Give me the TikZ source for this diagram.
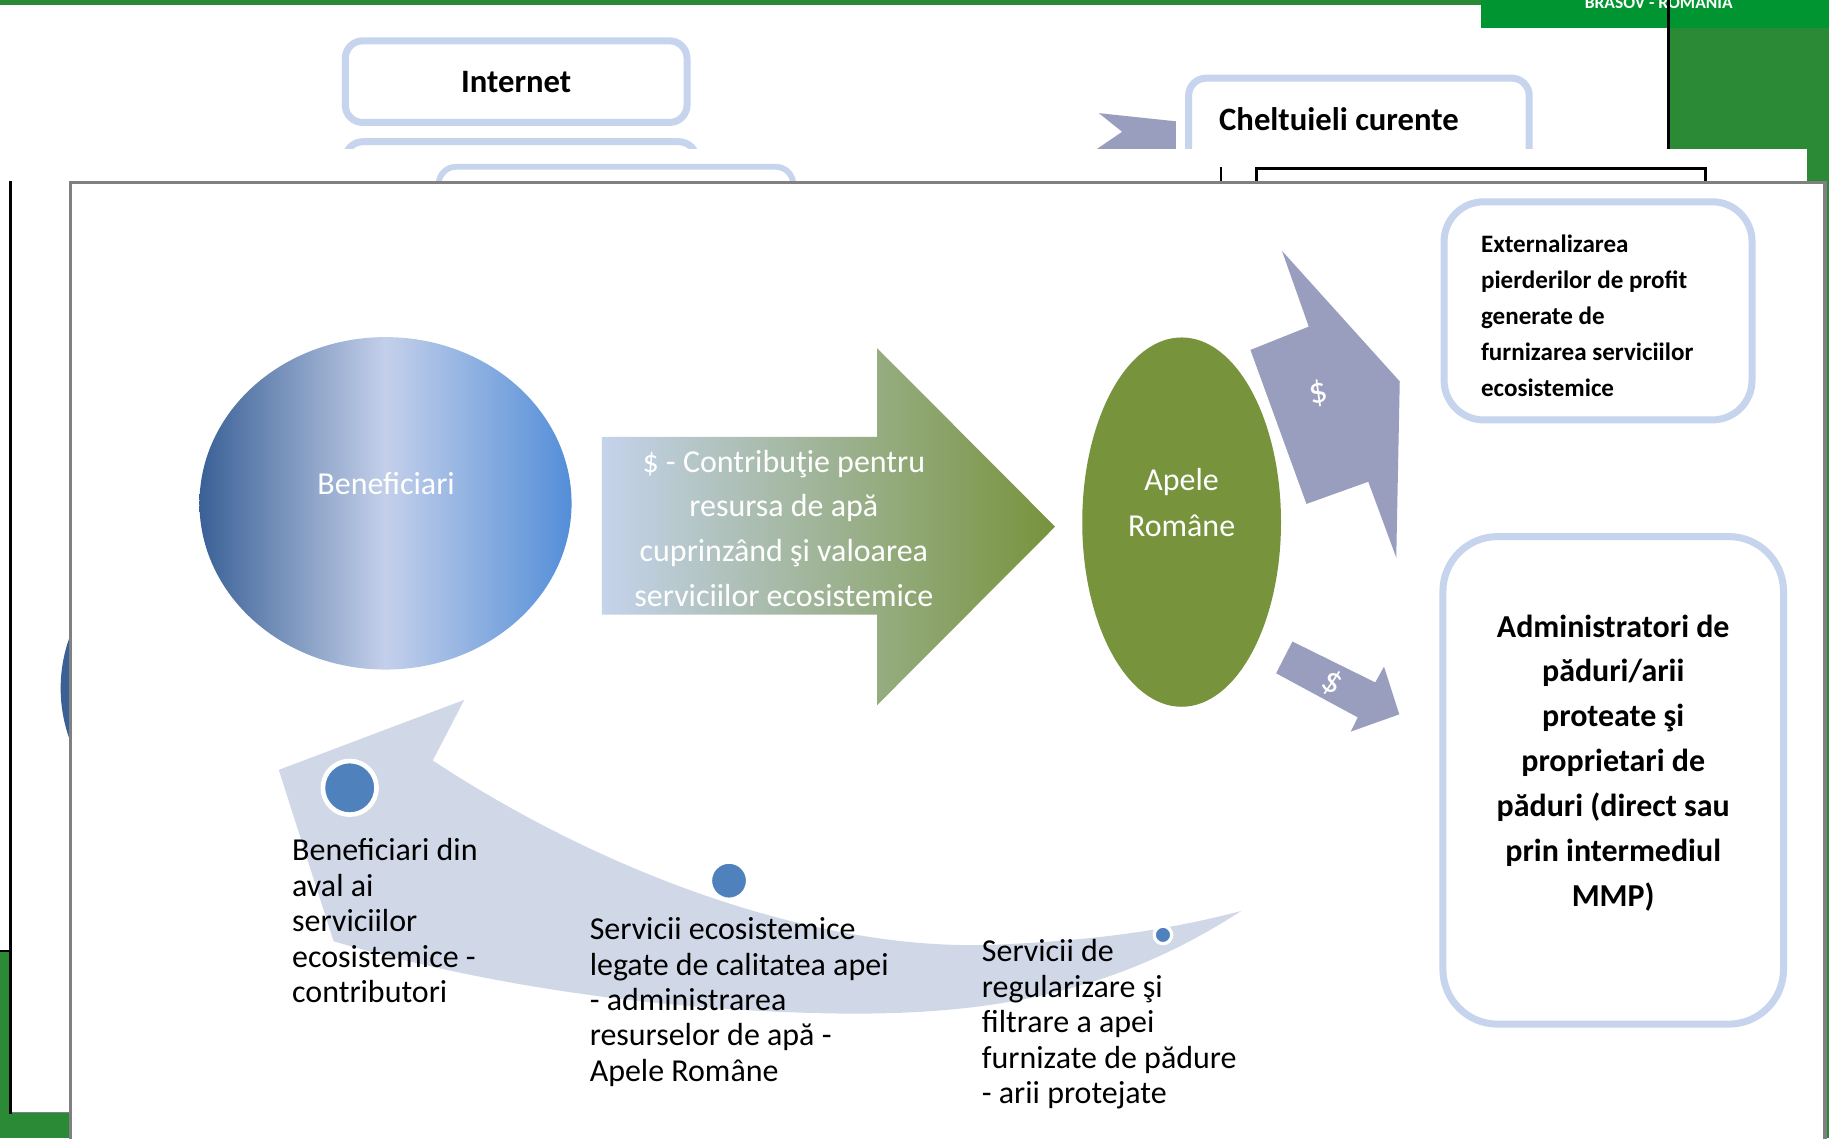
\documentclass[tikz,border=0pt]{standalone}
\usepackage{fontspec}
\setmainfont{Carlito}
\usepackage{xcolor}
\usepackage{tikz}
\usetikzlibrary{shapes.geometric,positioning}

\definecolor{framegreen}{RGB}{42,138,54}
\definecolor{headgreen}{RGB}{0,149,48}
\definecolor{boxblue}{RGB}{198,212,238}
\definecolor{flowgreen}{RGB}{119,147,60}
\definecolor{flowblue}{RGB}{197,211,236}
\definecolor{benefdark}{RGB}{58,96,150}
\definecolor{beneflight}{RGB}{196,208,234}
\definecolor{benefright}{RGB}{83,142,216}
\definecolor{arrowgray}{RGB}{154,158,190}
\definecolor{bandblue}{RGB}{208,216,232}
\definecolor{dotblue}{RGB}{79,129,189}
\definecolor{slidegray}{RGB}{128,128,128}

\begin{document}
\begin{tikzpicture}[x=1pt, y=-1pt,
    roundbox/.style={draw=boxblue, line width=6pt, fill=white, inner sep=0pt},
    bigtext/.style={font=\fontsize{27.4}{30.4}\selectfont, align=left, anchor=north west, inner sep=0pt},
    whitetext/.style={text=white, align=center, inner sep=0pt},
    dollar/.style={text=white, font=\fontsize{31}{31}\selectfont, inner sep=0pt},
    dot/.style={circle, fill=dotblue, draw=white, inner sep=0pt}]

\useasboundingbox (0,0) rectangle (1568,976);

% Back slide
\fill[framegreen] (0,0) rectangle (1568,976);
\fill[white] (0,4) rectangle (1430,815);
\fill[headgreen] (1270,0) rectangle (1568,24);
\node[text=white, font=\bfseries\fontsize{15}{15}\selectfont, anchor=base, inner sep=0pt] (town) at (1422,7) {BRASOV - ROMANIA};
\draw[black, line width=2.5pt] (1430,0) -- (1430,128);
\draw[black, line width=2pt] (0,815) -- (10,815);

\node[roundbox, rounded corners=15pt, minimum width=293pt, minimum height=70pt, font=\bfseries\fontsize{28}{30}\selectfont] (internet) at (442.5,70) {Internet};
\draw[boxblue, line width=6pt, rounded corners=15pt] (296,200) -- (296,121.5) -- (597,121.5) -- (597,200);
\draw[boxblue, line width=6pt, fill=white, rounded corners=15pt] (1019,200) -- (1019,67) -- (1311,67) -- (1311,200);
\node[font=\bfseries\fontsize{28}{30}\selectfont, anchor=base west, inner sep=0pt] (costs) at (1045,111.5) {Cheltuieli curente};
\fill[arrowgray] (942,97) -- (1008,104) -- (1008,128) -- (940,128) -- (962,113) -- cycle;

% Middle slide
\fill[white] (10,128) rectangle (1549,954);
\draw[slidegray, line width=1pt] (10,954) -- (60,954);
\draw[black, line width=2.5pt] (9,155) -- (9,955);
\fill[benefdark] (212,590) ellipse [x radius=160pt, y radius=143pt];
\draw[boxblue, line width=5pt, rounded corners=15pt] (376,200) -- (376,143) -- (680,143) -- (680,200);
\draw[black, line width=2pt] (1047,143) -- (1047,160);
\draw[black, line width=3pt] (1077,160) -- (1077,144.5) -- (1462,144.5) -- (1462,160);

% Front slide
\draw[slidegray, line width=3pt, fill=white] (60.5,156.5) rectangle (1564.5,1000);

% Curved return arrow
\fill[bandblue] (239,660) -- (398,600) -- (371,652)
    .. controls (520,750) and (700,815) .. (850,810)
    .. controls (950,806) and (1010,795) .. (1064,781)
    .. controls (930,868) and (800,875) .. (640,866)
    .. controls (520,859) and (400,840) .. (286,807) -- cycle;
\node[dot, line width=4pt, minimum size=46pt] (dotbig) at (299.8,675.4) {};
\node[dot, line width=3.5pt, minimum size=32.5pt] (dotmid) at (625,755) {};
\node[dot, line width=2.8pt, minimum size=15pt] (dotsmall) at (997,801.5) {};

% Beneficiari
\node[ellipse, minimum width=319pt, minimum height=285pt, inner sep=0pt,
      left color=benefdark, right color=benefright, middle color=beneflight] (benef) at (330.5,431.5) {};
\node[whitetext, font=\fontsize{27.4}{30}\selectfont, anchor=base] (benefname) at (331,424) {Beneficiari};

% Contribution arrow
\shade[left color=flowblue, right color=flowgreen] (516,374.5) -- (752,374.5) -- (752,298.5) -- (904.5,451.5) -- (752,604.5) -- (752,527) -- (516,527) -- cycle;
\node[whitetext, font=\fontsize{27.4}{38.5}\selectfont, anchor=north] (flowtext) at (672,377.5)
    {\strut\$ - Contribuţie pentru\\resursa de apă\\cuprinzând şi valoarea\\serviciilor ecosistemice};

% Apele Romane
\node[ellipse, fill=flowgreen, minimum width=170.4pt, minimum height=316.6pt, inner sep=0pt] (apele) at (1013,447.6) {};
\node[whitetext, font=\fontsize{27.4}{39}\selectfont, anchor=north] (apelename) at (1013,393.3) {\strut Apele\\Române};

% Payment arrows
\fill[arrowgray] (1099,215) -- (1200,327) -- (1197,478) -- (1173,413) -- (1120,432) -- (1072,300) -- (1122,280) -- cycle;
\node[dollar, rotate=12] (payup) at (1130,337) {\$};
\fill[arrowgray] (1108,550) -- (1179,585) -- (1186.5,571.5) -- (1199.6,612.4) -- (1158,627.2) -- (1164,615) -- (1094,577.2) -- cycle;
\node[dollar, rotate=-30] (paydown) at (1141.6,585.8) {\$};

% Right boxes
\node[roundbox, rounded corners=34pt, minimum width=264pt, minimum height=187pt] (extern) at (1370,266.5) {};
\node[font=\bfseries\fontsize{21.5}{30.8}\selectfont, align=left, anchor=north west, inner sep=0pt] (externtext) at (1269.5,195)
    {\strut Externalizarea\\pierderilor de profit\\generate de\\furnizarea serviciilor\\ecosistemice};
\node[roundbox, rounded corners=47pt, minimum width=292pt, minimum height=418pt] (admin) at (1383,669) {};
\node[font=\bfseries\fontsize{27.4}{38.5}\selectfont, align=center, anchor=north, inner sep=0pt] (admintext) at (1383,519)
    {\strut Administratori de\\păduri/arii\\proteate şi\\proprietari de\\păduri (direct sau\\prin intermediul\\MMP)};

% Labels along the return arrow
\node[bigtext] (contrib) at (250.3,716.5) {\strut Beneficiari din\\aval ai\\serviciilor\\ecosistemice -\\contributori};
\node[bigtext] (quality) at (505.4,784) {\strut Servicii ecosistemice\\legate de calitatea apei\\- administrarea\\resurselor de apă -\\Apele Române};
\node[bigtext] (forest) at (841.6,803) {\strut Servicii de\\regularizare şi\\filtrare a apei\\furnizate de pădure\\- arii protejate};

\end{tikzpicture}
\end{document}
